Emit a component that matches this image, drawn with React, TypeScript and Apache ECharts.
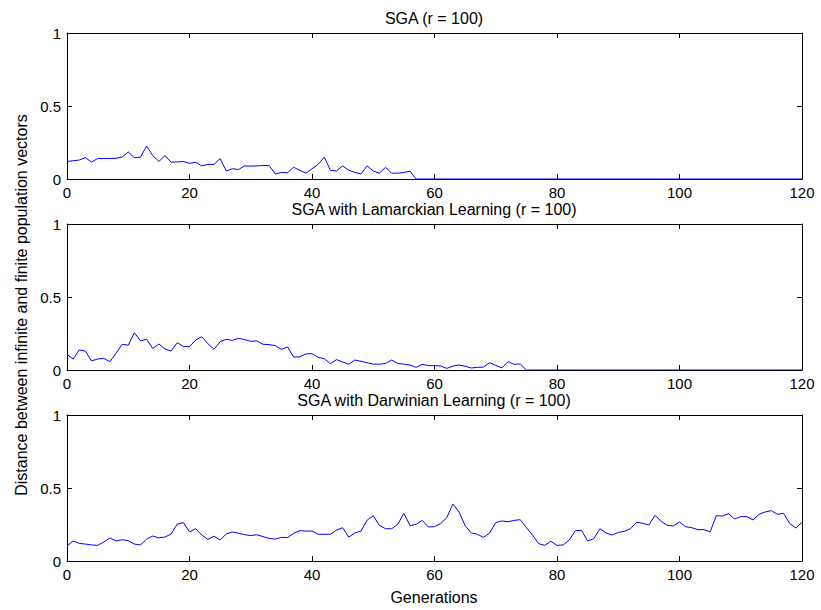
import React, { useEffect, useRef } from "react";
import * as echarts from "echarts";

const titles = [
  "SGA (r = 100)",
  "SGA with Lamarckian Learning (r = 100)",
  "SGA with Darwinian Learning (r = 100)",
];

const xTicks = [0, 20, 40, 60, 80, 100, 120];
const yTicks = [0, 0.5, 1];

// Generations 0..57 (then zero up to 120)
const sgaHead = [
  0.12, 0.125, 0.13, 0.146, 0.116, 0.14, 0.14, 0.14, 0.142, 0.15,
  0.185, 0.146, 0.15, 0.226, 0.16, 0.12, 0.16, 0.115, 0.117, 0.12,
  0.107, 0.115, 0.09, 0.1, 0.1, 0.14, 0.055, 0.07, 0.065, 0.09,
  0.088, 0.09, 0.092, 0.092, 0.034, 0.045, 0.043, 0.08, 0.06, 0.04,
  0.07, 0.1, 0.15, 0.06, 0.055, 0.09, 0.06, 0.045, 0.035, 0.09,
  0.055, 0.04, 0.08, 0.04, 0.04, 0.045, 0.053, 0,
];

// Generations 0..75 (then zero up to 120)
const lamarckHead = [
  0.107, 0.075, 0.137, 0.13, 0.062, 0.075, 0.08, 0.057, 0.114, 0.176,
  0.17, 0.255, 0.2, 0.21, 0.148, 0.178, 0.144, 0.13, 0.187, 0.16,
  0.16, 0.205, 0.228, 0.18, 0.142, 0.194, 0.21, 0.203, 0.217, 0.208,
  0.197, 0.199, 0.176, 0.174, 0.167, 0.142, 0.158, 0.089, 0.09, 0.11,
  0.112, 0.087, 0.078, 0.043, 0.071, 0.055, 0.04, 0.068, 0.06, 0.05,
  0.04, 0.04, 0.045, 0.068, 0.045, 0.04, 0.034, 0.018, 0.039, 0.03,
  0.03, 0.028, 0.011, 0.027, 0.034, 0.026, 0.014, 0.018, 0.02, 0.05,
  0.032, 0.014, 0.057, 0.039, 0.041, 0,
];

// Generations 0..120
const darwin = [
  0.103, 0.137, 0.121, 0.116, 0.11, 0.107, 0.13, 0.158, 0.137, 0.146,
  0.139, 0.116, 0.11, 0.15, 0.171, 0.158, 0.164, 0.185, 0.253, 0.263,
  0.199, 0.221, 0.178, 0.148, 0.169, 0.144, 0.185, 0.199, 0.19, 0.18,
  0.174, 0.18, 0.167, 0.155, 0.15, 0.162, 0.16, 0.19, 0.208, 0.205,
  0.205, 0.183, 0.183, 0.183, 0.212, 0.228, 0.164, 0.192, 0.205, 0.28,
  0.31, 0.244, 0.221, 0.221, 0.251, 0.326, 0.242, 0.251, 0.278, 0.233,
  0.235, 0.256, 0.297, 0.39, 0.336, 0.242, 0.192, 0.183, 0.162, 0.192,
  0.263, 0.274, 0.269, 0.278, 0.283, 0.228, 0.178, 0.119, 0.107, 0.135,
  0.107, 0.11, 0.144, 0.208, 0.21, 0.137, 0.153, 0.221, 0.192, 0.178,
  0.196, 0.203, 0.221, 0.265, 0.258, 0.247, 0.313, 0.272, 0.244, 0.24,
  0.267, 0.235, 0.228, 0.215, 0.215, 0.199, 0.31, 0.308, 0.324, 0.288,
  0.304, 0.304, 0.281, 0.32, 0.336, 0.345, 0.32, 0.326, 0.256, 0.226,
  0.265,
];

const LAST_GEN = 120;

function padZeros(head: number[]): number[] {
  const out = head.slice();
  while (out.length < LAST_GEN + 1) out.push(0);
  return out;
}

const seriesValues = [padZeros(sgaHead), padZeros(lamarckHead), darwin];

export default function App() {
  const ref = useRef<HTMLDivElement>(null);

  useEffect(() => {
    if (!ref.current) return;
    const chart = echarts.init(ref.current, undefined, { renderer: "svg" });
    const font = "Liberation Sans, Arial, sans-serif";
    const gridTops = [33, 224, 415];
    const grids = gridTops.map((t) => ({
      left: 67,
      top: t,
      width: 735,
      height: 146,
      show: false,
    }));

    const xAxes: any[] = [];
    const yAxes: any[] = [];
    const series: any[] = [];
    gridTops.forEach((_, i) => {
      const common = {
        gridIndex: i,
        type: "value",
        splitLine: { show: false },
        axisLine: { show: true, onZero: false, lineStyle: { color: "#000", width: 1 } },
        axisTick: { show: true, inside: true, length: 5, lineStyle: { color: "#000" } },
      };
      xAxes.push({
        ...common,
        position: "bottom",
        min: xTicks[0],
        max: xTicks[xTicks.length - 1],
        interval: 20,
        axisLabel: { show: true, color: "#000", fontSize: 15, fontFamily: font, margin: 6 },
      });
      xAxes.push({
        ...common,
        position: "top",
        min: xTicks[0],
        max: xTicks[xTicks.length - 1],
        interval: 20,
        axisLabel: { show: false },
      });
      yAxes.push({
        ...common,
        position: "left",
        min: yTicks[0],
        max: yTicks[yTicks.length - 1],
        interval: 0.5,
        axisLabel: { show: true, color: "#000", fontSize: 15, fontFamily: font, margin: 6 },
      });
      yAxes.push({
        ...common,
        position: "right",
        min: yTicks[0],
        max: yTicks[yTicks.length - 1],
        interval: 0.5,
        axisLabel: { show: false },
      });
      series.push({
        type: "line",
        xAxisIndex: i * 2,
        yAxisIndex: i * 2,
        data: seriesValues[i].map((v, g) => [g, v]),
        showSymbol: false,
        symbol: "none",
        lineStyle: { color: "#0000ff", width: 1 },
        z: 1,
      });
    });

    const graphics: any[] = titles.map((t, i) => ({
      type: "text",
      x: 434,
      y: gridTops[i] - 15,
      style: {
        text: t,
        fill: "#000",
        font: `16px ${font}`,
        textAlign: "center",
        textVerticalAlign: "middle",
      },
    }));
    graphics.push({
      type: "text",
      x: 434,
      y: 597,
      style: {
        text: "Generations",
        fill: "#000",
        font: `16px ${font}`,
        textAlign: "center",
        textVerticalAlign: "middle",
      },
    });
    graphics.push({
      type: "text",
      x: 21,
      y: 305,
      rotation: Math.PI / 2,
      style: {
        text: "Distance between infinite and finite population vectors",
        fill: "#000",
        font: `16px ${font}`,
        textAlign: "center",
        textVerticalAlign: "middle",
      },
    });

    chart.setOption({
      animation: false,
      backgroundColor: "#fff",
      grid: grids,
      xAxis: xAxes,
      yAxis: yAxes,
      series,
      graphic: graphics,
    });
    return () => chart.dispose();
  }, []);

  return (
    <div
      ref={ref}
      style={{ position: "fixed", left: 0, top: 0, width: 821, height: 610, background: "#fff" }}
    />
  );
}
